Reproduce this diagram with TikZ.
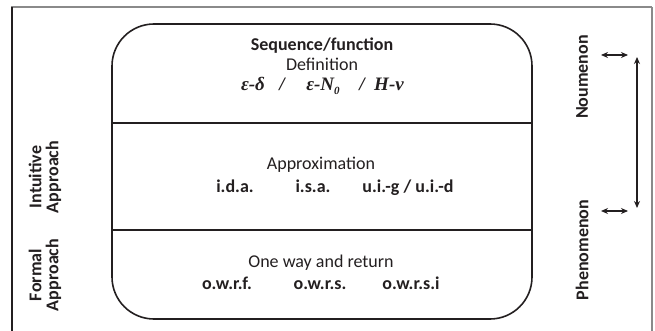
\documentclass[tikz,border=0pt]{standalone}
\usepackage{fontspec}
\setmainfont{Carlito}
\newfontfamily\mathserif{Liberation Serif}
\usetikzlibrary{arrows.meta}
\definecolor{ink}{HTML}{231F20}
\definecolor{framegray}{HTML}{8A8A8A}
\begin{document}
\begin{tikzpicture}[x=1pt,y=-1pt,
  txt/.style={text=ink, inner sep=0pt, anchor=base, font=\fontsize{18}{21}\selectfont},
  btxt/.style={text=ink, inner sep=0pt, anchor=base, font=\fontsize{18}{21}\selectfont\bfseries},
  mtxt/.style={text=ink, inner sep=0pt, anchor=base, font=\fontsize{19}{22}\selectfont\mathserif\bfseries\itshape},
  side/.style={text=ink, inner sep=0pt, anchor=center, rotate=90, align=center, font=\fontsize{18}{17}\selectfont\bfseries},
  boxline/.style={draw=ink, line width=1.6pt},
  dbl/.style={draw=ink, line width=1.1pt, {Stealth[length=7pt,width=6pt]}-{Stealth[length=7pt,width=6pt]}}
]
\useasboundingbox (0,0) rectangle (655,331);
% outer frame
\draw[framegray, line width=1.5pt] (11,7) -- (652,7);
\draw[ink, line width=1.2pt] (12,7) -- (12,331);
\draw[framegray, line width=1.5pt] (652,7) -- (652,331);
% main rounded box
\draw[boxline, rounded corners=42pt] (112,24) rectangle (532,319);
\draw[boxline] (112,123) -- (532,123);
\draw[boxline] (112,230) -- (532,230);
% top section
\node[btxt] (seq) at (322,51) {Sequence/function};
\node[txt] (def) at (322,71) {Definition};
\node[mtxt] (m1) at (253,91) {ε-δ};
\node[mtxt] (s1) at (282,91) {/};
\node[mtxt] (m2) at (323,91) {ε-\textit{N}\raisebox{-0.35ex}{\fontsize{11}{12}\selectfont 0}};
\node[mtxt] (s2) at (362,91) {/};
\node[mtxt] (m3) at (389,91) {H-ν};
% middle section
\node[txt] (approx) at (321,170) {Approximation};
\node[btxt] (ida) at (235,192) {i.d.a.};
\node[btxt] (isa) at (313,192) {i.s.a.};
\node[btxt] (uig) at (408,192) {u.i.-g / u.i.-d};
% bottom section
\node[txt] (owr) at (321,267) {One way and return};
\node[btxt] (owrf) at (227,289) {o.w.r.f.};
\node[btxt] (owrs) at (320,289) {o.w.r.s.};
\node[btxt] (owrsi) at (411,289) {o.w.r.s.i};
% left labels
\node[side] (intu) at (45,177) {Intuitive\\Approach};
\node[side] (form) at (45,275) {Formal\\Approach};
% right labels
\node[side] (nou) at (582,77) {Noumenon};
\node[side] (phe) at (582,250) {Phenomenon};
% arrows
\coordinate (a1) at (601,55);
\coordinate (a2) at (628,55);
\coordinate (b1) at (601,211);
\coordinate (b2) at (628,211);
\coordinate (v1) at (637,57);
\coordinate (v2) at (637,208);
\draw[dbl] (a1) -- (a2);
\draw[dbl] (b1) -- (b2);
\draw[dbl] (v1) -- (v2);
\end{tikzpicture}
\end{document}
